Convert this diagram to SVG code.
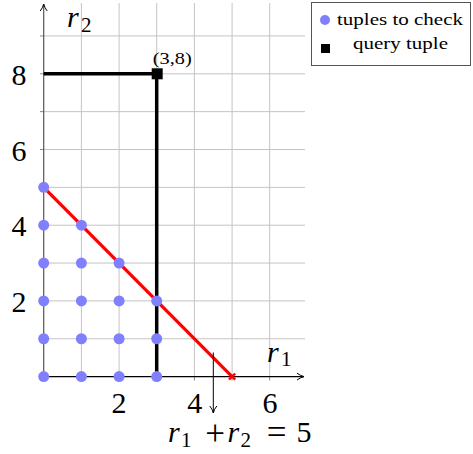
<svg xmlns="http://www.w3.org/2000/svg" width="473" height="454" viewBox="0 0 473 454">
<style>
.grid{stroke:#c4c4c4;stroke-width:1;fill:none}
.tick{stroke:#888;stroke-width:1}
.lbl{font-family:"Liberation Serif","DejaVu Serif",serif;font-size:30px;fill:#000}
.sub{font-size:21px;font-style:normal}
.op{font-size:35px}
.it{font-style:italic}
.small{font-family:"Liberation Serif","DejaVu Serif",serif;font-size:17px;fill:#000}
.dot{fill:#8080ff}
</style>
<defs>
<marker id="ah" markerWidth="10" markerHeight="10" refX="8" refY="5" orient="auto" markerUnits="userSpaceOnUse">
<path d="M1,1.5 Q4,4 8,5 Q4,6 1,8.5" fill="none" stroke="#000" stroke-width="1"/>
</marker>
</defs>
<rect width="473" height="454" fill="#fff"/>
<g id="grid">
<path class="grid" d="M81.4,3V376.6M119.1,3V376.6M156.7,3V376.6M194.4,3V376.6M232.1,3V376.6M269.7,3V376.6"/>
<path class="grid" d="M43.7,338.75H305M43.7,300.9H305M43.7,263.05H305M43.7,225.2H305M43.7,187.35H305M43.7,149.5H305M43.7,111.65H305M43.7,73.8H305M43.7,35.95H305"/>
<path class="tick" d="M40,338.75H43.7M40,300.9H43.7M40,263.05H43.7M40,225.2H43.7M40,187.35H43.7M40,149.5H43.7M40,111.65H43.7M40,73.8H43.7M40,35.95H43.7"/>
<path class="tick" d="M81.4,376.6V380.5M119.1,376.6V380.5M156.7,376.6V380.5M194.4,376.6V380.5M232.1,376.6V380.5M269.7,376.6V380.5"/>
</g>
<g id="axes">
<line x1="43.7" y1="376.6" x2="43.7" y2="4" stroke="#555" stroke-width="1.2" marker-end="url(#ah)"/>
<line x1="43.7" y1="376.6" x2="304" y2="376.6" stroke="#000" stroke-width="1.2" marker-end="url(#ah)"/>
</g>
<g id="tick-labels">
<text class="lbl" x="19" y="84.5" text-anchor="middle">8</text>
<text class="lbl" x="19" y="160.5" text-anchor="middle">6</text>
<text class="lbl" x="19" y="236" text-anchor="middle">4</text>
<text class="lbl" x="19" y="311.5" text-anchor="middle">2</text>
<text class="lbl" x="119.1" y="413" text-anchor="middle">2</text>
<text class="lbl" x="194.7" y="413" text-anchor="middle">4</text>
<text class="lbl" x="270" y="413" text-anchor="middle">6</text>
</g>
<g id="axis-labels">
<text class="lbl it" x="67" y="27">r</text>
<text class="lbl sub" x="81" y="32">2</text>
<text class="lbl it" x="267" y="362">r</text>
<text class="lbl sub" x="281" y="366">1</text>
</g>
<g id="connectors">
<line id="query-h" x1="43.7" y1="73.8" x2="156.7" y2="73.8" stroke="#000" stroke-width="3.5"/>
<line id="query-v" x1="156.7" y1="73.8" x2="156.7" y2="376.6" stroke="#000" stroke-width="3.5"/>
<line id="constraint" x1="43.7" y1="187.35" x2="232.1" y2="376.6" stroke="#f00" stroke-width="3.2"/>
<line id="callout" x1="213.3" y1="352.5" x2="213.3" y2="413" stroke="#000" stroke-width="1" marker-end="url(#ah)"/>
</g>
<g id="end-mark">
<path d="M229,373.5L235.2,379.7M235.2,373.5L229,379.7" stroke="#f00" stroke-width="2.4"/>
</g>
<g id="tuples">
<circle class="dot" cx="43.7" cy="376.6" r="5.5"/>
<circle class="dot" cx="43.7" cy="338.75" r="5.5"/>
<circle class="dot" cx="43.7" cy="300.9" r="5.5"/>
<circle class="dot" cx="43.7" cy="263.05" r="5.5"/>
<circle class="dot" cx="43.7" cy="225.2" r="5.5"/>
<circle class="dot" cx="43.7" cy="187.35" r="5.5"/>
<circle class="dot" cx="81.4" cy="376.6" r="5.5"/>
<circle class="dot" cx="81.4" cy="338.75" r="5.5"/>
<circle class="dot" cx="81.4" cy="300.9" r="5.5"/>
<circle class="dot" cx="81.4" cy="263.05" r="5.5"/>
<circle class="dot" cx="81.4" cy="225.2" r="5.5"/>
<circle class="dot" cx="119.1" cy="376.6" r="5.5"/>
<circle class="dot" cx="119.1" cy="338.75" r="5.5"/>
<circle class="dot" cx="119.1" cy="300.9" r="5.5"/>
<circle class="dot" cx="119.1" cy="263.05" r="5.5"/>
<circle class="dot" cx="156.7" cy="376.6" r="5.5"/>
<circle class="dot" cx="156.7" cy="338.75" r="5.5"/>
<circle class="dot" cx="156.7" cy="300.9" r="5.5"/>
</g>
<g id="query">
<rect x="151.7" y="68.3" width="11" height="11" fill="#000"/>
<text class="small" x="152.7" y="64" font-size="15" textLength="39" lengthAdjust="spacingAndGlyphs">(3,8)</text>
</g>
<g id="label">
<text class="lbl it" x="168" y="442">r</text>
<text class="lbl sub" x="181" y="447">1</text>
<text class="lbl op" x="215" y="444.5" text-anchor="middle">+</text>
<text class="lbl it" x="227.5" y="442">r</text>
<text class="lbl sub" x="240.5" y="447">2</text>
<text class="lbl op" x="276.5" y="444" text-anchor="middle">=</text>
<text class="lbl" x="304" y="442" text-anchor="middle">5</text>
</g>
<g id="legend">
<rect x="311.5" y="2.5" width="159" height="63" fill="#fff" stroke="#555" stroke-width="1"/>
<circle class="dot" cx="325" cy="20" r="5"/>
<text class="small" x="337" y="25" textLength="126" lengthAdjust="spacingAndGlyphs">tuples to check</text>
<rect x="321" y="44" width="9" height="9" fill="#000"/>
<text class="small" x="353" y="48.5" textLength="95" lengthAdjust="spacingAndGlyphs">query tuple</text>
</g>
</svg>
